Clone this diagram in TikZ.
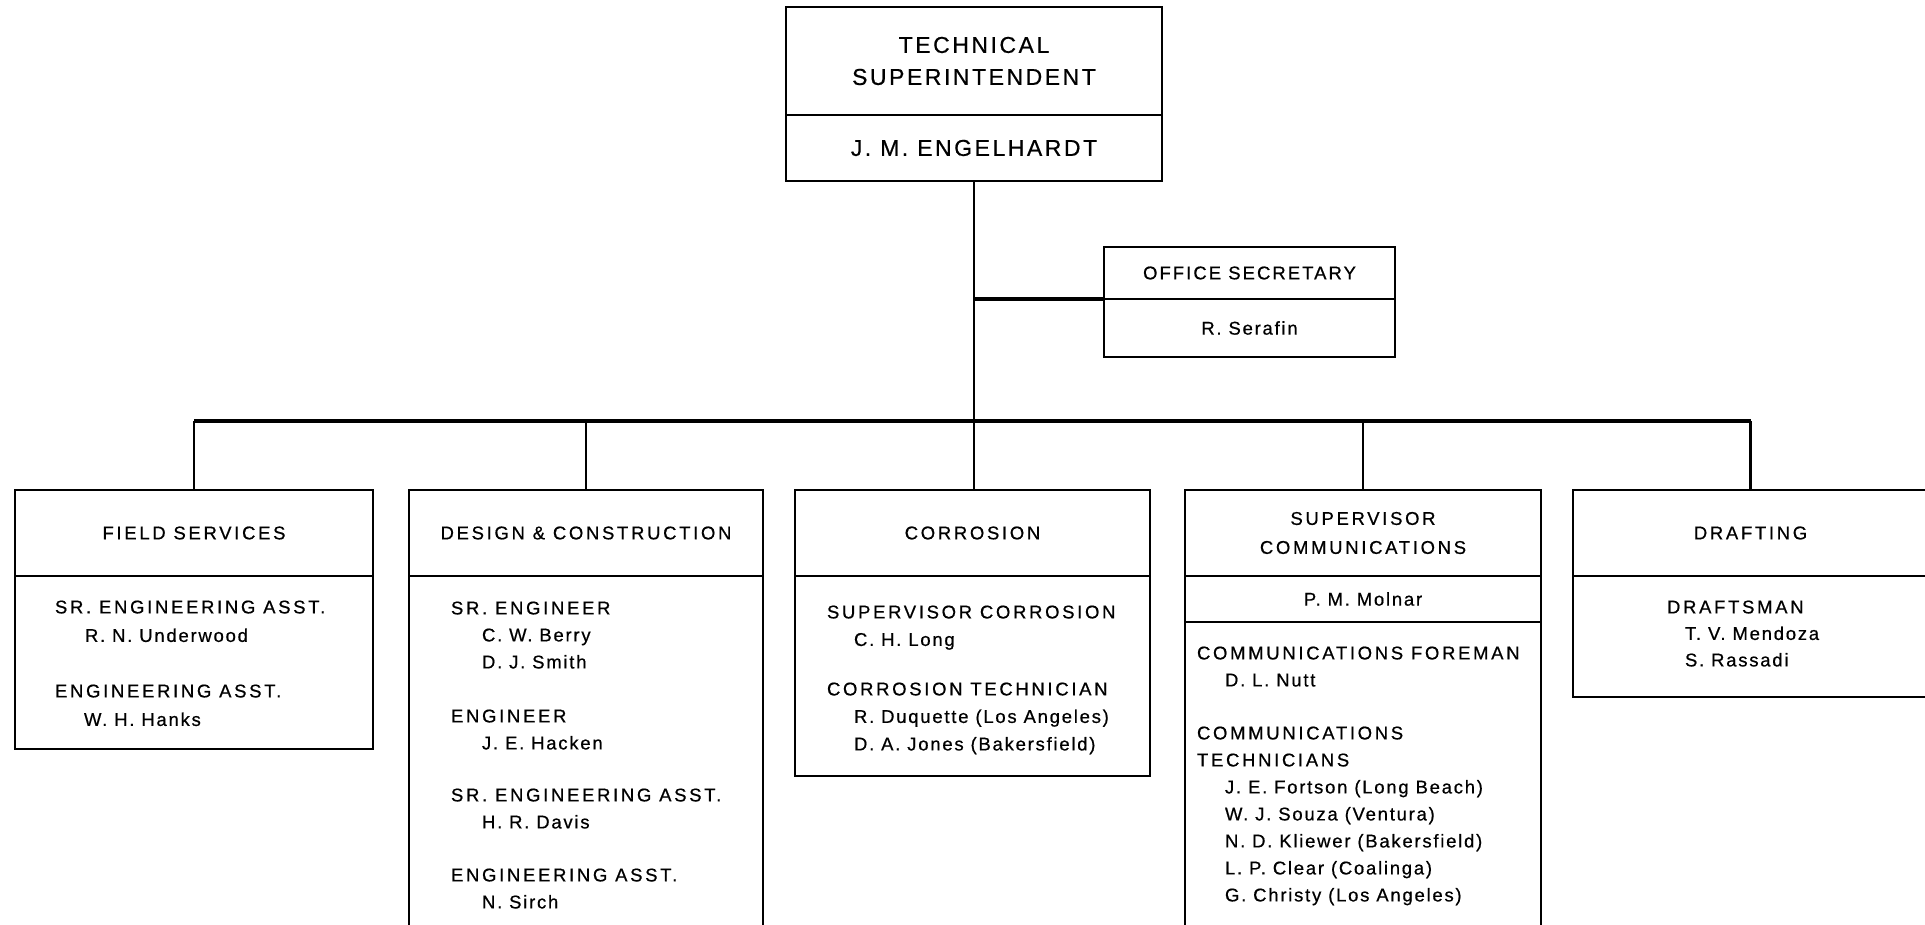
\documentclass[tikz,border=0pt]{standalone}
\usepackage{fontspec}
\newfontfamily\ttlfont[LetterSpace=14.5, FakeBold=0.6]{Liberation Sans}
\newfontfamily\nmfont[LetterSpace=9.5, FakeBold=0.6]{Liberation Sans}
\newfontfamily\topfont[LetterSpace=11, FakeBold=0.6]{Liberation Sans}
\newfontfamily\secfont[LetterSpace=11, FakeBold=0.6]{Liberation Sans}
\newcommand\nm[1]{{\nmfont #1}}
\begin{document}
\begin{tikzpicture}[x=1pt,y=-1pt,
  box/.style={draw=black, line width=2.4pt, inner sep=0pt, outer sep=0pt, align=center,
    font=\ttlfont\fontsize{18.5}{29}\selectfont},
  topbox/.style={box, font=\topfont\fontsize{23}{32}\selectfont},
  secbox/.style={box, font=\secfont\fontsize{18.5}{29}\selectfont},
  txt/.style={inner sep=0pt, outer sep=0pt, anchor=north west, align=left},
  conn/.style={line width=2.2pt},
  branch/.style={line width=3.5pt},
  bus/.style={line width=4.8pt}]
\useasboundingbox (0,0) rectangle (1925,925);
\clip (0,0) rectangle (1925,925);
% top
\node[topbox, minimum width=376, minimum height=108] (ts) at (974,61) {TECHNICAL\\SUPERINTENDENT};
\node[topbox, minimum width=376, minimum height=66] (tsn) at (974,148) {J. M. ENGELHARDT};
% secretary
\node[secbox, minimum width=291, minimum height=52] (os) at (1249.5,273) {OFFICE SECRETARY};
\node[secbox, minimum width=291, minimum height=58] (osn) at (1249.5,328) {\nm{R. Serafin}};
% departments: headers
\node[box, minimum width=358, minimum height=86] (fs) at (194,533) {FIELD SERVICES};
\node[box, minimum width=354, minimum height=86] (dc) at (586,533) {DESIGN \& CONSTRUCTION};
\node[box, minimum width=355, minimum height=86] (co) at (972.5,533) {CORROSION};
\node[box, minimum width=356, minimum height=86] (sc) at (1363,533) {SUPERVISOR\\COMMUNICATIONS};
\node[box, minimum width=355, minimum height=86] (dr) at (1750.5,533) {DRAFTING};
% bodies
\node[box, minimum width=358, minimum height=173] (fsb) at (194,662.5) {};
\node[box, minimum width=354, minimum height=364] (dcb) at (586,758) {};
\node[box, minimum width=355, minimum height=200] (cob) at (972.5,676) {};
\node[box, minimum width=356, minimum height=46] (scn) at (1363,599) {\nm{P. M. Molnar}};
\node[box, minimum width=356, minimum height=318] (scb) at (1363,781) {};
\node[box, minimum width=355, minimum height=121] (drb) at (1750.5,636.5) {};
% body texts
\node[txt, font=\ttlfont\fontsize{18.5}{28.5}\selectfont] (fst) at (55,600.5)
  {SR. ENGINEERING ASST.\\\hspace*{30pt}\nm{R. N. Underwood}\\[27pt]ENGINEERING ASST.\\\hspace*{29pt}\nm{W. H. Hanks}};
\node[txt, font=\ttlfont\fontsize{18.5}{27}\selectfont] (dct) at (451,601.5)
  {SR. ENGINEER\\\hspace*{31pt}\nm{C. W. Berry}\\\hspace*{31pt}\nm{D. J. Smith}\\[27pt]ENGINEER\\\hspace*{31pt}\nm{J. E. Hacken}\\[25pt]SR. ENGINEERING ASST.\\\hspace*{31pt}\nm{H. R. Davis}\\[26pt]ENGINEERING ASST.\\\hspace*{31pt}\nm{N. Sirch}};
\node[txt, font=\ttlfont\fontsize{18.5}{27.5}\selectfont] (cot) at (827,605.5)
  {SUPERVISOR CORROSION\\\hspace*{27pt}\nm{C. H. Long}\\[22pt]CORROSION TECHNICIAN\\\hspace*{27pt}\nm{R. Duquette (Los Angeles)}\\\hspace*{27pt}\nm{D. A. Jones (Bakersfield)}};
\node[txt, font=\ttlfont\fontsize{18.5}{27}\selectfont] (sct) at (1197,646.5)
  {COMMUNICATIONS FOREMAN\\\hspace*{28pt}\nm{D. L. Nutt}\\[26pt]COMMUNICATIONS\\TECHNICIANS\\\hspace*{28pt}\nm{J. E. Fortson (Long Beach)}\\\hspace*{28pt}\nm{W. J. Souza (Ventura)}\\\hspace*{28pt}\nm{N. D. Kliewer (Bakersfield)}\\\hspace*{28pt}\nm{L. P. Clear (Coalinga)}\\\hspace*{28pt}\nm{G. Christy (Los Angeles)}};
\node[txt, font=\ttlfont\fontsize{18.5}{26.5}\selectfont] (drt) at (1667,600.5)
  {DRAFTSMAN\\\hspace*{18pt}\nm{T. V. Mendoza}\\\hspace*{18pt}\nm{S. Rassadi}};
% connectors
\coordinate (bus) at (0,421);
\draw[conn] (tsn.south) -- (tsn.south |- co.north);
\draw[branch] (tsn.south |- osn.north west) -- (osn.north west);
\draw[bus] (fs.north |- bus) -- (dr.north |- bus);
\foreach \n in {fs,dc,sc,dr} \draw[conn] (\n.north |- bus) -- (\n.north);
\end{tikzpicture}
\end{document}
